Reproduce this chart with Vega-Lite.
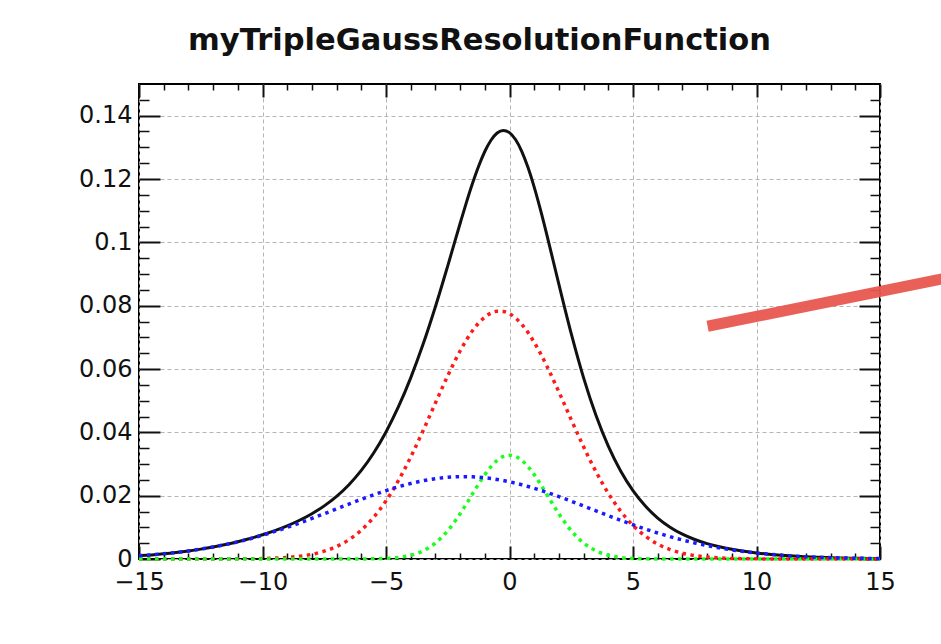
{
  "$schema": "https://vega.github.io/schema/vega-lite/v6.json",
  "width": 741,
  "height": 475,
  "autosize": {"type": "none"},
  "padding": {"left": 139, "top": 84, "right": 61, "bottom": 85},
  "background": "white",
  "title": {"text": "myTripleGaussResolutionFunction", "font": "DejaVu Sans", "fontSize": 30.5, "fontWeight": "bold", "color": "#111", "anchor": "middle", "frame": "group", "dx": -30, "offset": 3, "baseline": "alphabetic"},
  "config": {
    "view": {"stroke": "#000", "strokeWidth": 2},
    "axis": {"domain": false, "labelFont": "DejaVu Sans", "labelFontSize": 24, "labelColor": "#111", "tickColor": "#111", "gridColor": "#b5b5b5", "gridDash": [4, 3], "gridWidth": 1, "labelFlush": false, "labelOverlap": false}
  },
  "datasets": {
    "curves": [
      {"x": -15, "total": 0.00102, "g1": 0, "g2": 0, "g3": 0.00102},
      {"x": -14.5, "total": 0.0013, "g1": 0, "g2": 0, "g3": 0.0013},
      {"x": -14, "total": 0.00164, "g1": 0, "g2": 0, "g3": 0.00164},
      {"x": -13.5, "total": 0.00205, "g1": 0, "g2": 0, "g3": 0.00205},
      {"x": -13, "total": 0.00254, "g1": 0, "g2": 0, "g3": 0.00254},
      {"x": -12.5, "total": 0.00312, "g1": 0, "g2": 0, "g3": 0.00312},
      {"x": -12, "total": 0.00379, "g1": 0.00001, "g2": 0, "g3": 0.00378},
      {"x": -11.5, "total": 0.00457, "g1": 0.00002, "g2": 0, "g3": 0.00456},
      {"x": -11, "total": 0.00547, "g1": 0.00004, "g2": 0, "g3": 0.00543},
      {"x": -10.5, "total": 0.00649, "g1": 0.00007, "g2": 0, "g3": 0.00641},
      {"x": -10, "total": 0.00765, "g1": 0.00014, "g2": 0, "g3": 0.00751},
      {"x": -9.5, "total": 0.00897, "g1": 0.00027, "g2": 0, "g3": 0.0087},
      {"x": -9, "total": 0.01048, "g1": 0.00049, "g2": 0, "g3": 0.00999},
      {"x": -8.5, "total": 0.01224, "g1": 0.00087, "g2": 0, "g3": 0.01137},
      {"x": -8, "total": 0.01431, "g1": 0.00149, "g2": 0, "g3": 0.01282},
      {"x": -7.5, "total": 0.01678, "g1": 0.00247, "g2": 0, "g3": 0.01431},
      {"x": -7, "total": 0.01978, "g1": 0.00395, "g2": 0, "g3": 0.01583},
      {"x": -6.5, "total": 0.02346, "g1": 0.0061, "g2": 0.00001, "g3": 0.01735},
      {"x": -6, "total": 0.02797, "g1": 0.00911, "g2": 0.00002, "g3": 0.01884},
      {"x": -5.5, "total": 0.03347, "g1": 0.01315, "g2": 0.00006, "g3": 0.02026},
      {"x": -5, "total": 0.04013, "g1": 0.01835, "g2": 0.00018, "g3": 0.0216},
      {"x": -4.5, "total": 0.04801, "g1": 0.02472, "g2": 0.00049, "g3": 0.0228},
      {"x": -4, "total": 0.05721, "g1": 0.03219, "g2": 0.00117, "g3": 0.02385},
      {"x": -3.5, "total": 0.06778, "g1": 0.0405, "g2": 0.00257, "g3": 0.02471},
      {"x": -3, "total": 0.07966, "g1": 0.04925, "g2": 0.00504, "g3": 0.02537},
      {"x": -2.5, "total": 0.09258, "g1": 0.05786, "g2": 0.00893, "g3": 0.02579},
      {"x": -2, "total": 0.10595, "g1": 0.06569, "g2": 0.01427, "g3": 0.02599},
      {"x": -1.75, "total": 0.11244, "g1": 0.0691, "g2": 0.01734, "g3": 0.026},
      {"x": -1.5, "total": 0.11855, "g1": 0.07207, "g2": 0.02054, "g3": 0.02594},
      {"x": -1.25, "total": 0.12404, "g1": 0.07451, "g2": 0.0237, "g3": 0.02583},
      {"x": -1, "total": 0.12868, "g1": 0.07639, "g2": 0.02664, "g3": 0.02565},
      {"x": -0.75, "total": 0.13224, "g1": 0.07764, "g2": 0.02918, "g3": 0.02542},
      {"x": -0.5, "total": 0.13452, "g1": 0.07825, "g2": 0.03114, "g3": 0.02513},
      {"x": -0.25, "total": 0.13534, "g1": 0.07818, "g2": 0.03238, "g3": 0.02478},
      {"x": 0, "total": 0.13464, "g1": 0.07745, "g2": 0.0328, "g3": 0.02439},
      {"x": 0.25, "total": 0.13238, "g1": 0.07606, "g2": 0.03238, "g3": 0.02394},
      {"x": 0.5, "total": 0.12866, "g1": 0.07407, "g2": 0.03114, "g3": 0.02345},
      {"x": 0.75, "total": 0.1236, "g1": 0.07151, "g2": 0.02918, "g3": 0.02291},
      {"x": 1, "total": 0.11743, "g1": 0.06845, "g2": 0.02664, "g3": 0.02234},
      {"x": 1.25, "total": 0.11039, "g1": 0.06497, "g2": 0.0237, "g3": 0.02172},
      {"x": 1.5, "total": 0.10275, "g1": 0.06113, "g2": 0.02054, "g3": 0.02108},
      {"x": 2, "total": 0.08672, "g1": 0.05275, "g2": 0.01427, "g3": 0.0197},
      {"x": 2.5, "total": 0.07116, "g1": 0.04398, "g2": 0.00893, "g3": 0.01825},
      {"x": 3, "total": 0.05721, "g1": 0.03543, "g2": 0.00504, "g3": 0.01674},
      {"x": 3.5, "total": 0.04538, "g1": 0.02759, "g2": 0.00257, "g3": 0.01522},
      {"x": 4, "total": 0.03564, "g1": 0.02076, "g2": 0.00117, "g3": 0.01371},
      {"x": 4.5, "total": 0.02781, "g1": 0.01509, "g2": 0.00049, "g3": 0.01223},
      {"x": 5, "total": 0.02159, "g1": 0.0106, "g2": 0.00018, "g3": 0.01081},
      {"x": 5.5, "total": 0.01672, "g1": 0.0072, "g2": 0.00006, "g3": 0.00946},
      {"x": 6, "total": 0.01294, "g1": 0.00471, "g2": 0.00002, "g3": 0.00821},
      {"x": 6.5, "total": 0.01006, "g1": 0.00299, "g2": 0.00001, "g3": 0.00706},
      {"x": 7, "total": 0.00784, "g1": 0.00183, "g2": 0, "g3": 0.00601},
      {"x": 7.5, "total": 0.00615, "g1": 0.00108, "g2": 0, "g3": 0.00507},
      {"x": 8, "total": 0.00486, "g1": 0.00062, "g2": 0, "g3": 0.00424},
      {"x": 8.5, "total": 0.00385, "g1": 0.00034, "g2": 0, "g3": 0.00351},
      {"x": 9, "total": 0.00306, "g1": 0.00018, "g2": 0, "g3": 0.00288},
      {"x": 9.5, "total": 0.00243, "g1": 0.00009, "g2": 0, "g3": 0.00234},
      {"x": 10, "total": 0.00193, "g1": 0.00005, "g2": 0, "g3": 0.00188},
      {"x": 10.5, "total": 0.00152, "g1": 0.00002, "g2": 0, "g3": 0.0015},
      {"x": 11, "total": 0.0012, "g1": 0.00001, "g2": 0, "g3": 0.00119},
      {"x": 11.5, "total": 0.00093, "g1": 0, "g2": 0, "g3": 0.00093},
      {"x": 12, "total": 0.00072, "g1": 0, "g2": 0, "g3": 0.00072},
      {"x": 12.5, "total": 0.00055, "g1": 0, "g2": 0, "g3": 0.00055},
      {"x": 13, "total": 0.00042, "g1": 0, "g2": 0, "g3": 0.00042},
      {"x": 13.5, "total": 0.00032, "g1": 0, "g2": 0, "g3": 0.00032},
      {"x": 14, "total": 0.00024, "g1": 0, "g2": 0, "g3": 0.00024},
      {"x": 14.5, "total": 0.00018, "g1": 0, "g2": 0, "g3": 0.00018},
      {"x": 15, "total": 0.00013, "g1": 0, "g2": 0, "g3": 0.00013}
    ],
    "annotation": [
      {"ax": 8.02, "ay": 0.0735},
      {"ax": 18, "ay": 0.0892}
    ]
  },
  "resolve": {"axis": {"x": "independent", "y": "independent"}},
  "layer": [
    {
      "data": {"name": "curves"},
      "mark": {"type": "line", "color": "#111", "strokeWidth": 3, "interpolate": "monotone"},
      "encoding": {
        "x": {"field": "x", "type": "quantitative", "scale": {"domain": [-15, 15], "nice": false, "zero": false},
          "axis": {"orient": "bottom", "title": null, "values": [-15, -10, -5, 0, 5, 10, 15], "tickSize": -13, "tickWidth": 2, "labelPadding": 24, "grid": true, "format": "d"}},
        "y": {"field": "total", "type": "quantitative", "scale": {"domain": [0, 0.15], "nice": false},
          "axis": {"orient": "left", "title": null, "values": [0, 0.02, 0.04, 0.06, 0.08, 0.1, 0.12, 0.14], "tickSize": -21, "tickWidth": 2, "labelPadding": 28, "grid": true, "format": "~g"}}
      }
    },
    {
      "data": {"name": "curves"},
      "mark": {"type": "line", "color": "#ff1a1a", "strokeWidth": 3.5, "strokeDash": [3.5, 4.5], "interpolate": "monotone"},
      "encoding": {
        "x": {"field": "x", "type": "quantitative", "scale": {"domain": [-15, 15], "nice": false, "zero": false},
          "axis": {"orient": "top", "title": null, "values": [-15, -10, -5, 0, 5, 10, 15], "tickSize": -13, "tickWidth": 2, "labels": false, "grid": false}},
        "y": {"field": "g1", "type": "quantitative", "scale": {"domain": [0, 0.15], "nice": false},
          "axis": {"orient": "right", "title": null, "values": [0, 0.02, 0.04, 0.06, 0.08, 0.1, 0.12, 0.14], "tickSize": -21, "tickWidth": 2, "labels": false, "grid": false}}
      }
    },
    {
      "data": {"name": "curves"},
      "mark": {"type": "line", "color": "#1aff1a", "strokeWidth": 3.5, "strokeDash": [3.5, 4.5], "interpolate": "monotone"},
      "encoding": {
        "x": {"field": "x", "type": "quantitative", "scale": {"domain": [-15, 15], "nice": false, "zero": false},
          "axis": {"orient": "bottom", "title": null, "values": [-14, -13, -12, -11, -9, -8, -7, -6, -4, -3, -2, -1, 1, 2, 3, 4, 6, 7, 8, 9, 11, 12, 13, 14], "tickSize": -6, "tickWidth": 1.5, "labels": false, "grid": false}},
        "y": {"field": "g2", "type": "quantitative", "scale": {"domain": [0, 0.15], "nice": false},
          "axis": {"orient": "left", "title": null, "values": [0.005, 0.01, 0.015, 0.025, 0.03, 0.035, 0.045, 0.05, 0.055, 0.065, 0.07, 0.075, 0.085, 0.09, 0.095, 0.105, 0.11, 0.115, 0.125, 0.13, 0.135, 0.145], "tickSize": -10, "tickWidth": 1.5, "labels": false, "grid": false}}
      }
    },
    {
      "data": {"name": "curves"},
      "mark": {"type": "line", "color": "#1a1aff", "strokeWidth": 3.5, "strokeDash": [3.5, 4.5], "interpolate": "monotone"},
      "encoding": {
        "x": {"field": "x", "type": "quantitative", "scale": {"domain": [-15, 15], "nice": false, "zero": false},
          "axis": {"orient": "top", "title": null, "values": [-14, -13, -12, -11, -9, -8, -7, -6, -4, -3, -2, -1, 1, 2, 3, 4, 6, 7, 8, 9, 11, 12, 13, 14], "tickSize": -6, "tickWidth": 1.5, "labels": false, "grid": false}},
        "y": {"field": "g3", "type": "quantitative", "scale": {"domain": [0, 0.15], "nice": false},
          "axis": {"orient": "right", "title": null, "values": [0.005, 0.01, 0.015, 0.025, 0.03, 0.035, 0.045, 0.05, 0.055, 0.065, 0.07, 0.075, 0.085, 0.09, 0.095, 0.105, 0.11, 0.115, 0.125, 0.13, 0.135, 0.145], "tickSize": -10, "tickWidth": 1.5, "labels": false, "grid": false}}
      }
    },
    {
      "data": {"name": "annotation"},
      "mark": {"type": "line", "color": "#e8574f", "strokeWidth": 11, "strokeCap": "butt", "opacity": 0.95},
      "encoding": {
        "x": {"field": "ax", "type": "quantitative", "scale": {"domain": [-15, 15], "nice": false, "zero": false}, "axis": null},
        "y": {"field": "ay", "type": "quantitative", "scale": {"domain": [0, 0.15], "nice": false}, "axis": null}
      }
    }
  ]
}
